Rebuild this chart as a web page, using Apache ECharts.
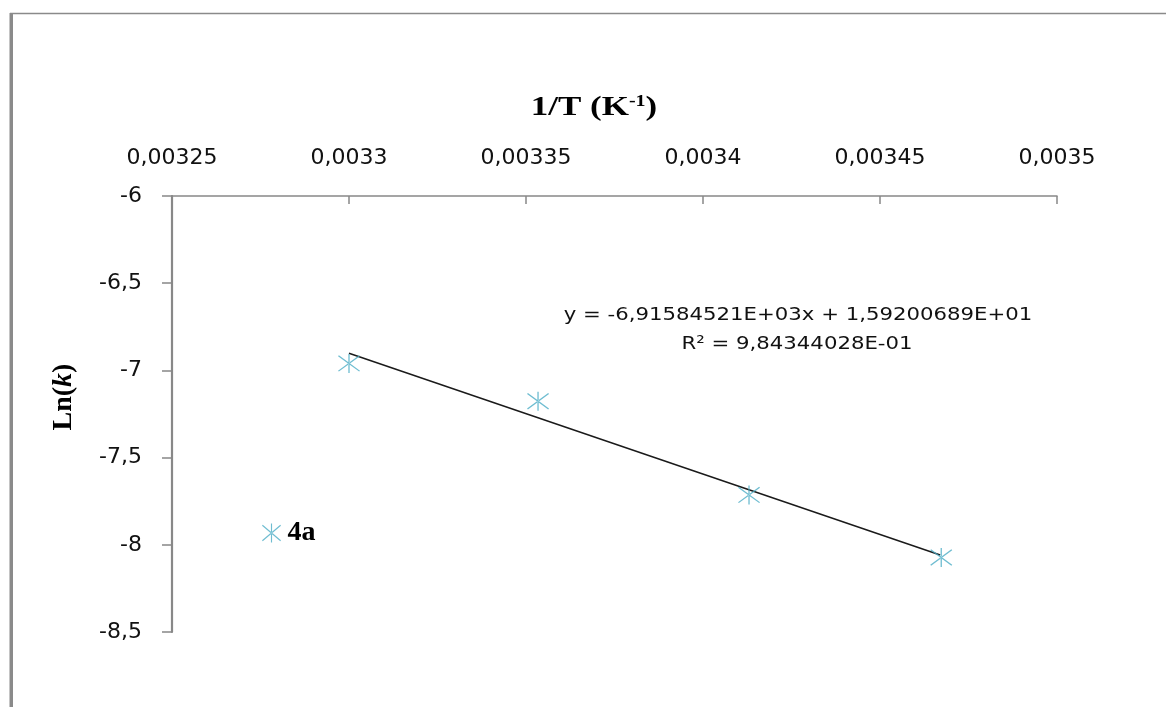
<!DOCTYPE html>
<html>
<head>
<meta charset="utf-8">
<script src="https://cdn.jsdelivr.net/npm/echarts@6/dist/echarts.min.js"></script>
<style>html,body{margin:0;padding:0;background:#fff;}#c{width:1166px;height:707px;}</style>
</head>
<body>
<div id="c"></div>
<script>
// Data
const invT = [0.0033, 0.0033534, 0.003413, 0.0034673];
const lnK = [-6.960, -7.177, -7.714, -8.073];
const trendX = [0.0033, 0.003467];
const trendY = [-6.902, -8.058];
const seriesName = '4a';
const eqText = 'y = -6,91584521E+03x + 1,59200689E+01';
const r2Text = 'R² = 9,84344028E-01';

const starPath = 'path://M9.4,0 L10.6,0 L10.6,20 L9.4,20 Z M0,2.4 L0.8,1.4 L20,17.6 L19.2,18.6 Z M0,17.6 L0.8,18.6 L20,2.4 L19.2,1.4 Z';
const fmt = v => String(parseFloat(Number(v).toFixed(6))).replace('.', ',');

const chart = echarts.init(document.getElementById('c'));
chart.setOption({
  backgroundColor: '#fff',
  animation: false,
  grid: { left: 172, right: 109, top: 196, bottom: 75 },
  xAxis: {
    type: 'value', position: 'top',
    min: 0.00325, max: 0.0035, interval: 0.00005,
    axisLine: { show: true, lineStyle: { color: '#888', width: 1.5 } },
    axisTick: { show: true, inside: true, length: 8, lineStyle: { color: '#888', width: 1.5 } },
    splitLine: { show: false },
    axisLabel: { margin: 27, color: '#111', fontFamily: 'DejaVu Sans', fontSize: 22, formatter: fmt }
  },
  yAxis: {
    type: 'value',
    min: -8.5, max: -6, interval: 0.5,
    axisLine: { show: true, lineStyle: { color: '#888', width: 2.2 } },
    axisTick: { show: true, inside: false, length: 10, lineStyle: { color: '#888', width: 1.5 } },
    splitLine: { show: false },
    axisLabel: { margin: 30, color: '#111', fontFamily: 'DejaVu Sans', fontSize: 22, formatter: fmt }
  },
  legend: {
    data: [seriesName], left: 257, top: 514, itemWidth: 22, itemHeight: 19,
    textStyle: { fontFamily: 'Liberation Serif', fontWeight: 'bold', fontSize: 28, color: '#000' }
  },
  series: [
    {
      name: 'trend', type: 'line', data: trendX.map((x, i) => [x, trendY[i]]),
      symbol: 'none', lineStyle: { color: '#1a1a1a', width: 1.5 }, z: 2
    },
    {
      name: seriesName, type: 'scatter', data: invT.map((x, i) => [x, lnK[i]]),
      symbol: starPath, symbolSize: [22, 19],
      itemStyle: { color: '#4bacc6' }, z: 3
    }
  ],
  graphic: [
    { type: 'rect', shape: { x: 9.5, y: 13, width: 3.5, height: 700 }, style: { fill: '#8a8a8a' } },
    { type: 'line', shape: { x1: 10, y1: 13.5, x2: 1166, y2: 13.5 }, style: { stroke: '#8a8a8a', lineWidth: 1.5 } },
    {
      type: 'text', x: 594, y: 108, scaleX: 1.25,
      style: {
        text: '{b|1/T (K}{s|-1}{b|)}', textAlign: 'center', textVerticalAlign: 'middle',
        rich: {
          b: { fontFamily: 'Liberation Serif', fontWeight: 'bold', fontSize: 28, fill: '#000' },
          s: { fontFamily: 'Liberation Serif', fontWeight: 'bold', fontSize: 16, fill: '#000', verticalAlign: 'top', padding: [0, 0, 12, 0] }
        }
      }
    },
    {
      type: 'text', x: 64, y: 397, rotation: Math.PI / 2,
      style: {
        text: '{b|Ln(}{i|k}{b|)}', textAlign: 'center', textVerticalAlign: 'middle',
        rich: {
          b: { fontFamily: 'Liberation Serif', fontWeight: 'bold', fontSize: 28, fill: '#000' },
          i: { fontFamily: 'Liberation Serif', fontWeight: 'bold', fontStyle: 'italic', fontSize: 28, fill: '#000' }
        }
      }
    },
    {
      type: 'text', x: 798, y: 315, scaleX: 1.18,
      style: { text: eqText, textAlign: 'center', textVerticalAlign: 'middle', fontFamily: 'DejaVu Sans', fontSize: 18, fill: '#111' }
    },
    {
      type: 'text', x: 797, y: 344, scaleX: 1.18,
      style: { text: r2Text, textAlign: 'center', textVerticalAlign: 'middle', fontFamily: 'DejaVu Sans', fontSize: 18, fill: '#111' }
    }
  ]
});
</script>
</body>
</html>
